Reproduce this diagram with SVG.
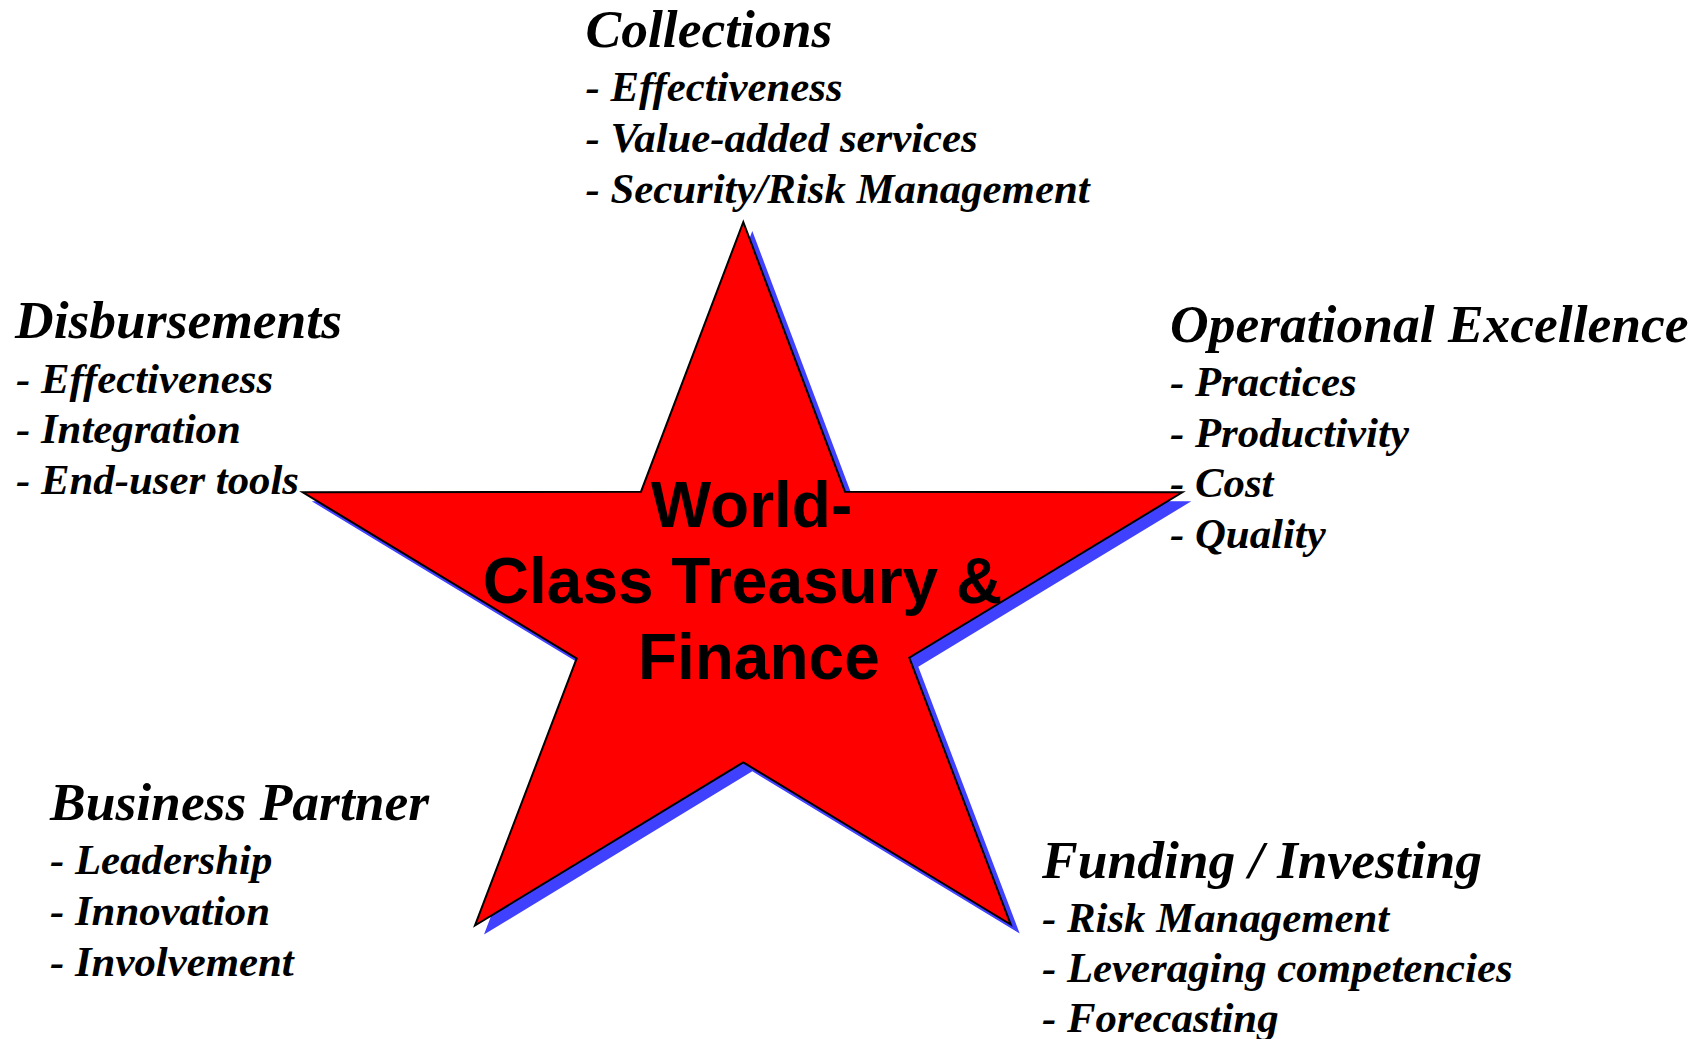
<svg xmlns="http://www.w3.org/2000/svg" width="1702" height="1039" viewBox="0 0 1702 1039">
  <defs>
    <style>
      .head { font-family: "Liberation Serif", "Times New Roman", serif; font-weight: bold; font-style: italic; font-size: 53.5px; fill: #000; }
      .item { font-family: "Liberation Serif", "Times New Roman", serif; font-weight: bold; font-style: italic; font-size: 42.8px; fill: #000; }
      .core { font-family: "Liberation Sans", Arial, sans-serif; font-weight: bold; font-size: 64px; fill: #000; text-anchor: middle; }
    </style>
    <polygon id="starShape" points="743.3,222 845,491.7 1182.3,492.3 909.3,657.7 1010.7,924.5 743.3,762.3 475,925.5 576.7,658.3 302.7,492.3 641,491.7"/>
  </defs>
  <rect width="1702" height="1039" fill="#fff"/>

  <!-- central star with offset drop shadow -->
  <g id="star">
    <use href="#starShape" transform="translate(9,9)" fill="#4040ff"/>
    <use href="#starShape" fill="#ff0000" stroke="#000" stroke-width="2" stroke-linejoin="miter"/>
    <text class="core" x="751.5" y="526.5">World-</text>
    <text class="core" x="742.5" y="602.5">Class Treasury &amp;</text>
    <text class="core" x="758.8" y="678.5">Finance</text>
  </g>

  <g id="connectors"/>

  <g id="collections">
    <text class="head" x="585.5" y="46.5">Collections</text>
    <text class="item" x="585.5" y="100.5">- Effectiveness</text>
    <text class="item" x="585.5" y="152">- Value-added services</text>
    <text class="item" x="585.5" y="203">- Security/Risk Management</text>
  </g>

  <g id="disbursements">
    <text class="head" x="15" y="338">Disbursements</text>
    <text class="item" x="16" y="392.5">- Effectiveness</text>
    <text class="item" x="16" y="443">- Integration</text>
    <text class="item" x="16" y="493.5">- End-user tools</text>
  </g>

  <g id="operational-excellence">
    <text class="head" x="1170" y="342">Operational Excellence</text>
    <text class="item" x="1170" y="396">- Practices</text>
    <text class="item" x="1170" y="447">- Productivity</text>
    <text class="item" x="1170" y="497">- Cost</text>
    <text class="item" x="1170" y="548">- Quality</text>
  </g>

  <g id="business-partner">
    <text class="head" x="50" y="820">Business Partner</text>
    <text class="item" x="50" y="874">- Leadership</text>
    <text class="item" x="50" y="925">- Innovation</text>
    <text class="item" x="50" y="976">- Involvement</text>
  </g>

  <g id="funding-investing">
    <text class="head" x="1042" y="878">Funding / Investing</text>
    <text class="item" x="1042" y="931.5">- Risk Management</text>
    <text class="item" x="1042" y="981.5">- Leveraging competencies</text>
    <text class="item" x="1042" y="1031.5">- Forecasting</text>
  </g>
</svg>
